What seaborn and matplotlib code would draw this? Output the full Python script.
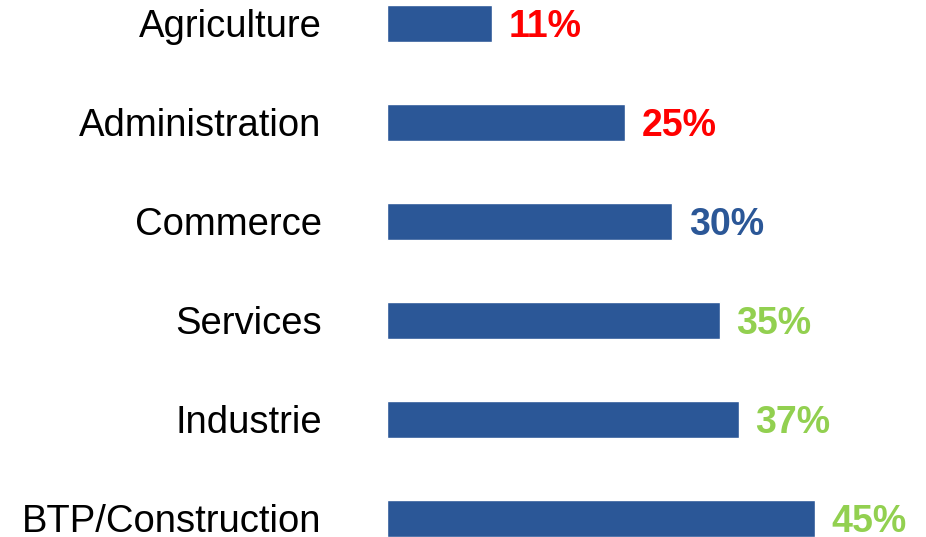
import matplotlib
matplotlib.use("Agg")
import matplotlib.pyplot as plt
import seaborn as sns
import pandas as pd

# data
sectors = ["Agriculture", "Administration", "Commerce", "Services", "Industrie", "BTP/Construction"]
shares = [11, 25, 30, 35, 37, 45]

df = pd.DataFrame({"sector": sectors, "share": shares})

sns.set_theme(style="white")
plt.rcParams["font.family"] = ["Liberation Sans", "DejaVu Sans"]

bar_color = "#2B5797"
label_colors = ["#FF0000", "#FF0000", "#2B5797", "#92D050", "#92D050", "#92D050"]

fig = plt.figure(figsize=(9.26, 5.37), dpi=100)
ax = fig.add_axes([387 / 926, 0, 1 - 387 / 926, 1])

sns.barplot(data=df, x="share", y="sector", orient="h", color=bar_color,
            width=0.365, saturation=1, ax=ax)

ax.set_xlim(0, 539 / 9.5)
ax.set_ylim(5.187, -0.237)

for i, (v, c) in enumerate(zip(shares, label_colors)):
    ax.text(v + 1.8, i, f"{v}%", color=c, fontsize=27, fontweight="bold",
            va="center_baseline", ha="left")

ax.set_xlabel("")
ax.set_ylabel("")
ax.set_xticks([])
ax.tick_params(axis="y", length=0, pad=47, labelsize=27.5, labelcolor="black")
for lbl in ax.get_yticklabels():
    lbl.set_verticalalignment("center_baseline")
sns.despine(ax=ax, left=True, bottom=True)

fig.savefig("out.png", dpi=100)
